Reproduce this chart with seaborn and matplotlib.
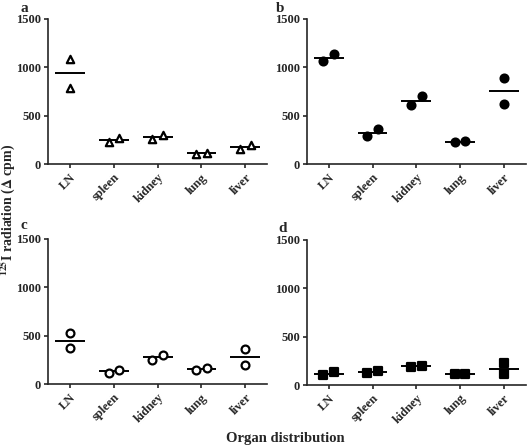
import numpy as np
import pandas as pd
import matplotlib
matplotlib.use('Agg')
import matplotlib.pyplot as plt
import seaborn as sns

# Dados
orgaos = ['LN', 'spleen', 'kidney', 'lung', 'liver']
painel_a = [[1090, 790], [228, 272], [265, 298], [105, 120], [158, 200]]
painel_b = [[1064, 1134], [294, 361], [610, 702], [228, 242], [890, 626]]
painel_c = [[525, 370], [122, 145], [255, 300], [145, 170], [360, 200]]
painel_d = [[108, 132], [122, 145], [188, 202], [118, 120], [225, 118]]
letras = ['a', 'b', 'c', 'd']
yticks = [0, 500, 1000, 1500]

sns.set_style('ticks')
plt.rcParams['font.family'] = ['Liberation Serif', 'DejaVu Serif']
plt.rcParams['font.weight'] = 'bold'
plt.rcParams['mathtext.fontset'] = 'stix'

fig = plt.figure(figsize=(5.28, 4.48), dpi=100)
posicoes = [
    [0.091, 0.633, 0.415, 0.325],
    [0.581, 0.633, 0.415, 0.325],
    [0.091, 0.142, 0.415, 0.325],
    [0.581, 0.140, 0.415, 0.325],
]
estilos = [
    dict(marker='^', facecolor='white', s=28),
    dict(marker='o', facecolor='black', s=32),
    dict(marker='o', facecolor='white', s=32),
    dict(marker='s', facecolor='black', s=28),
]
letra_pos = [(24, 8), (280, 8), (24, 225), (283, 228)]

for i, valores in enumerate([painel_a, painel_b, painel_c, painel_d]):
    ax = fig.add_axes(posicoes[i])
    linhas = []
    for j, par in enumerate(valores):
        # pontos proximos ficam lado a lado
        perto = abs(par[0] - par[1]) < 100
        for k, v in enumerate(par):
            desloc = (-0.12 if k == 0 else 0.12) if perto else 0.0
            linhas.append({'orgao': orgaos[j], 'x': j + desloc, 'valor': v})
    df = pd.DataFrame(linhas)

    # linha da media (mediana de 2 pontos = media)
    sns.boxplot(data=df, x='orgao', y='valor', order=orgaos, ax=ax, width=0.68,
                showbox=False, showcaps=False, showfliers=False,
                whiskerprops={'visible': False},
                medianprops={'color': 'black', 'linewidth': 1.4})
    est = estilos[i]
    ax.scatter(df['x'], df['valor'], marker=est['marker'], s=est['s'],
               facecolor=est['facecolor'], edgecolor='black', linewidths=1.6,
               zorder=5)

    ax.set_xlim(-0.5, 4.5)
    ax.set_ylim(0, 1500)
    ax.set_yticks(yticks)
    ax.set_xticks(range(len(orgaos)))
    ax.set_xticklabels(orgaos, rotation=45, ha='right', rotation_mode='anchor',
                       fontsize=9, fontweight='bold')
    ax.set_yticklabels([str(t) for t in yticks], fontsize=9, fontweight='bold')
    ax.tick_params(axis='both', length=3, width=1.2, pad=2)
    ax.set_xlabel('')
    ax.set_ylabel('')
    sns.despine(ax=ax)
    for lado in ['left', 'bottom']:
        ax.spines[lado].set_linewidth(1.2)
    fig.text(letra_pos[i][0] / 528, 1 - letra_pos[i][1] / 448, letras[i],
             fontsize=11, fontweight='bold', ha='center', va='center')

fig.text(8 / 528, 1 - 210 / 448, r'$^{\mathbf{125}}$I radiation ($\mathbf{\Delta}$ cpm)',
         rotation=90, fontsize=10, fontweight='bold', ha='center', va='center')
fig.text(285 / 528, 1 - 438 / 448, 'Organ distribution',
         fontsize=10.5, fontweight='bold', ha='center', va='center')

fig.savefig('out.png', dpi=100)
